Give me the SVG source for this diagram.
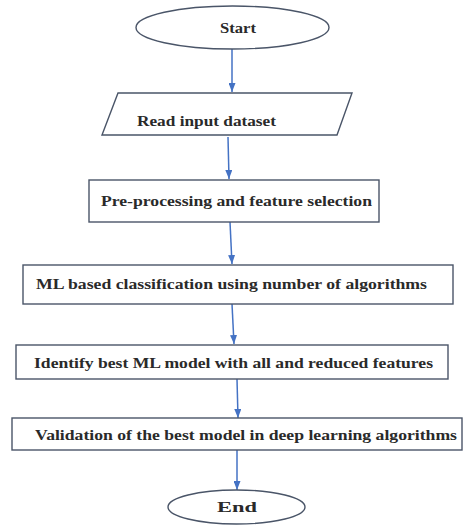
<svg xmlns="http://www.w3.org/2000/svg" width="464" height="525" viewBox="0 0 464 525">
<defs>
<marker id="ah" markerWidth="9" markerHeight="7" refX="9" refY="3.5" orient="auto" markerUnits="userSpaceOnUse">
<path d="M0,0 L9,3.5 L0,7 Z" fill="#4472c4"/>
</marker>
<style>
.n{fill:#fff;stroke:#4a5568;stroke-width:1.4}
.t{font-family:"Liberation Serif","Times New Roman",serif;font-size:15px;font-weight:bold;fill:#2a2a2a}
.c{stroke:#4472c4;stroke-width:1.5;fill:none}
</style>
</defs>
<rect width="464" height="525" fill="#fff"/>
<g id="connectors">
<line class="c" x1="232" y1="49" x2="232" y2="92" marker-end="url(#ah)"/>
<line class="c" x1="228" y1="137" x2="229" y2="179" marker-end="url(#ah)"/>
<line class="c" x1="230" y1="222" x2="232" y2="264" marker-end="url(#ah)"/>
<line class="c" x1="232" y1="304" x2="234" y2="344" marker-end="url(#ah)"/>
<line class="c" x1="237" y1="379" x2="238" y2="418" marker-end="url(#ah)"/>
<line class="c" x1="237" y1="450" x2="237" y2="490" marker-end="url(#ah)"/>
</g>
<g id="start">
<ellipse class="n" cx="232.5" cy="27.5" rx="96.5" ry="21.5"/>
<text class="t" x="220" y="33" textLength="36" lengthAdjust="spacingAndGlyphs">Start</text>
</g>
<g id="read">
<polygon class="n" points="118,93 352,93 337,135 102,135"/>
<text class="t" x="137" y="126" textLength="139" lengthAdjust="spacingAndGlyphs">Read input dataset</text>
</g>
<g id="preprocess">
<rect class="n" x="89" y="180" width="290" height="42"/>
<text class="t" x="101" y="206" textLength="271" lengthAdjust="spacingAndGlyphs">Pre-processing and feature selection</text>
</g>
<g id="mlclass">
<rect class="n" x="23" y="265" width="430" height="39"/>
<text class="t" x="36" y="289" textLength="391" lengthAdjust="spacingAndGlyphs">ML based classification using number of algorithms</text>
</g>
<g id="identify">
<rect class="n" x="16" y="345" width="432" height="34"/>
<text class="t" x="34" y="368" textLength="399" lengthAdjust="spacingAndGlyphs">Identify best ML model with all and reduced features</text>
</g>
<g id="validation">
<rect class="n" x="12" y="418" width="450" height="32"/>
<text class="t" x="35" y="440" textLength="422" lengthAdjust="spacingAndGlyphs">Validation of the best model in deep learning algorithms</text>
</g>
<g id="end">
<ellipse class="n" cx="236.5" cy="507" rx="68.5" ry="17"/>
<text class="t" x="217" y="512" textLength="40" lengthAdjust="spacingAndGlyphs">End</text>
</g>
</svg>
